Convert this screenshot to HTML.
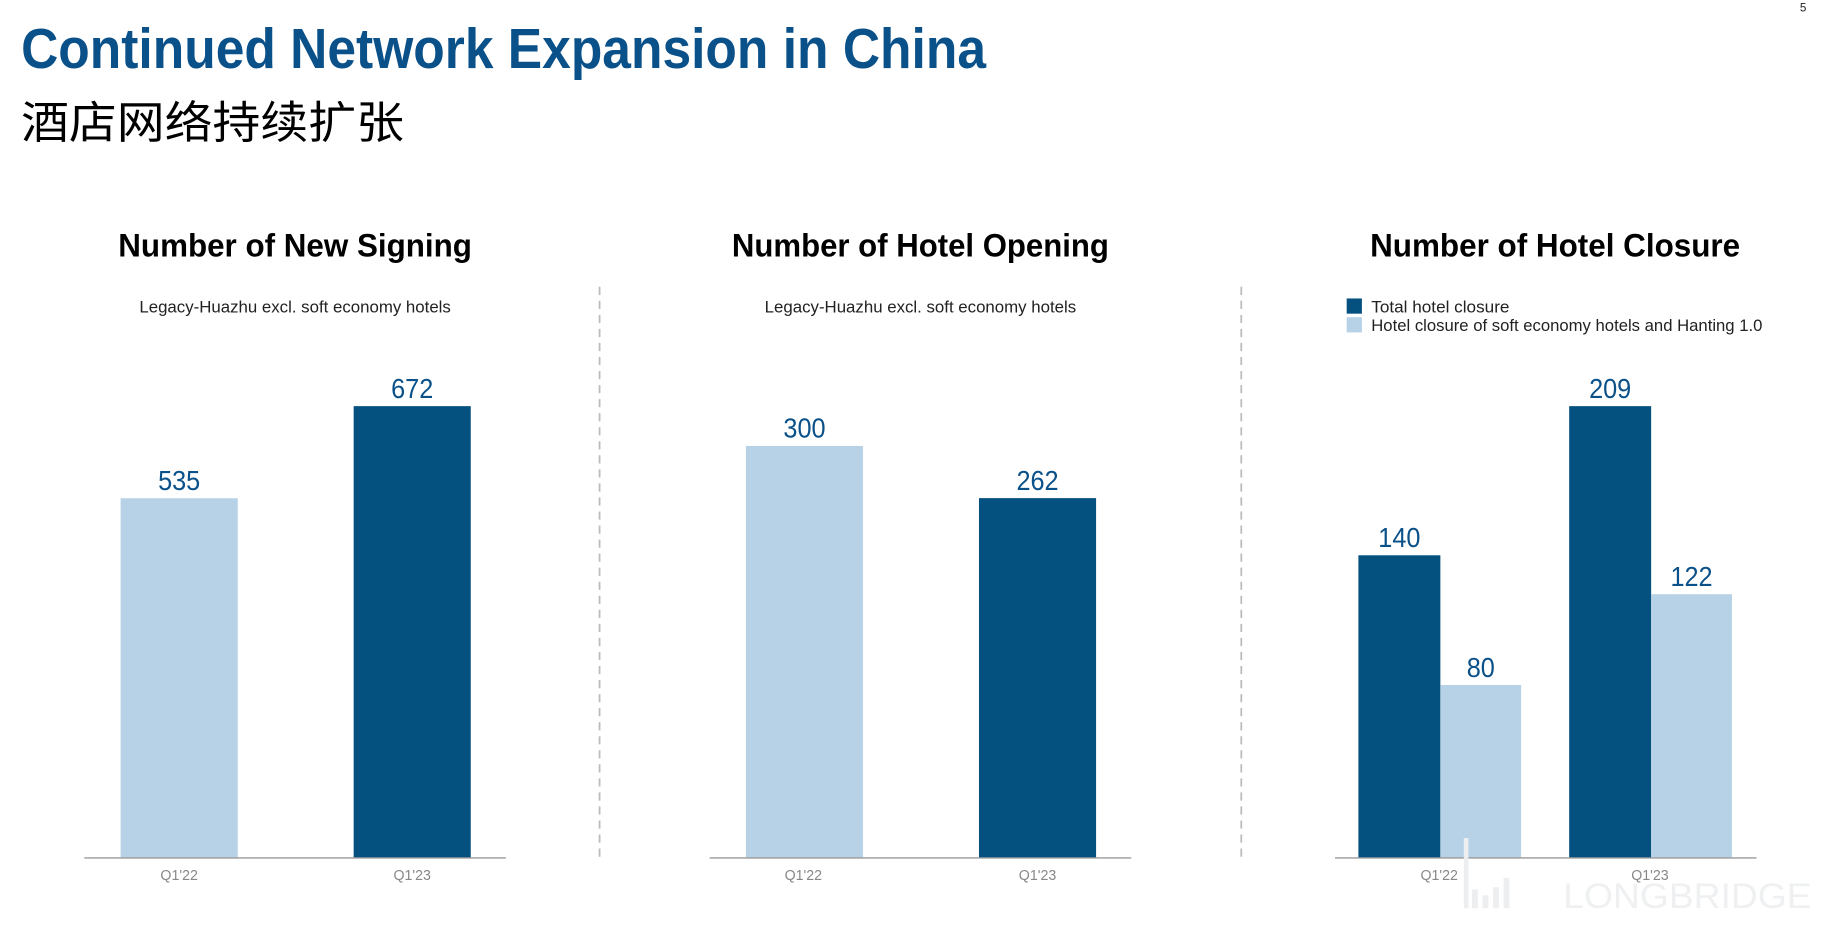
<!DOCTYPE html>
<html><head><meta charset="utf-8"><style>
html,body{margin:0;padding:0;background:#fff;width:1835px;height:934px;overflow:hidden}
svg{display:block}
text{font-family:"Liberation Sans","Noto Sans CJK SC",sans-serif}
</style></head><body>
<svg id="s" width="1835" height="934" viewBox="0 0 1567 798" preserveAspectRatio="none">
<text x="1537" y="10" font-size="10" fill="#222">5</text>
<text x="18" y="58" font-size="48" font-weight="bold" fill="#0a5089" textLength="824" lengthAdjust="spacingAndGlyphs">Continued Network Expansion in China</text>
<text x="18" y="118" font-size="38" fill="#000" textLength="327" lengthAdjust="spacingAndGlyphs">酒店网络持续扩张</text>
<line x1="512" y1="245" x2="512" y2="732" stroke="#bbb" stroke-width="1.5" stroke-dasharray="7,5"/>
<line x1="1060" y1="245" x2="1060" y2="732" stroke="#bbb" stroke-width="1.5" stroke-dasharray="7,5"/>
<g id="c1"></g>
<g id="c2"></g>
<g id="c3"></g>
<g fill="#eceef0">
<rect x="1250" y="716" width="4" height="60"/><rect x="1257" y="760" width="5" height="16"/><rect x="1266" y="765" width="5" height="11"/><rect x="1275" y="758" width="5" height="18"/><rect x="1284" y="750" width="5" height="26"/>
</g>
<text x="1335" y="776" font-size="30" fill="#eef0f2" textLength="212" lengthAdjust="spacingAndGlyphs">LONGBRIDGE</text>
</svg>
<script>
const NS="http://www.w3.org/2000/svg";
const DARK="#04507f", LIGHT="#b7d2e6";
const categories=["Q1'22","Q1'23"];
const signingValues=[535,672];
const openingValues=[300,262];
const closureTotal=[140,209];
const closureSoft=[80,122];
const BASE=733;
function mk(tag,attrs,parent,txt){const e=document.createElementNS(NS,tag);for(const k in attrs)e.setAttribute(k,attrs[k]);if(txt!==undefined)e.textContent=txt;parent.appendChild(e);return e;}
function txt(p,x,y,s,size,fill,opts){const t=mk('text',Object.assign({x:x,y:y,'font-size':size,fill:fill,'text-anchor':'middle'},opts||{}),p,s);return t;}
function yScale(perUnit){return v=>BASE-v*perUnit;}
function header(p,cx,title,sub,w){
  const t=txt(p,cx,219,title,28,"#000",{'font-weight':'bold',textLength:w,lengthAdjust:'spacingAndGlyphs'});
  
  
  if(sub){const s=txt(p,cx,267,sub,14,"#222",{textLength:266,lengthAdjust:'spacingAndGlyphs'});
  
  }
}
function axis(p,x1,x2,centers){
  const l=mk('line',{x1:x1,x2:x2,y1:BASE,y2:BASE,stroke:'#999','stroke-width':1.2},p);
  
  
  centers.forEach((c,i)=>{const t=txt(p,c,752,categories[i],13,"#888",{textLength:32,lengthAdjust:'spacingAndGlyphs'});
  
  });
}
function bar(p,x,w,v,y,color){
  const top=y(v);
  const r=mk('rect',{x:x,y:top,width:w,height:BASE-top,fill:color},p);
  
  
  const t=txt(p,x+w/2,top-7,String(v),24,"#0a5089",{textLength:String(v).length*12,lengthAdjust:'spacingAndGlyphs'});
  
  
}
const c1=document.getElementById('c1');
header(c1,252,"Number of New Signing","Legacy-Huazhu excl. soft economy hotels",302);
const y1=yScale(386/672);
[103,302].forEach((x,i)=>bar(c1,x,100,signingValues[i],y1,i?DARK:LIGHT));
axis(c1,72,432,[153,352]);
const c2=document.getElementById('c2');
header(c2,786,"Number of Hotel Opening","Legacy-Huazhu excl. soft economy hotels",322);
const y2=yScale(352/300);
[637,836].forEach((x,i)=>bar(c2,x,100,openingValues[i],y2,i?DARK:LIGHT));
axis(c2,606,966,[686,886]);
const c3=document.getElementById('c3');
header(c3,1328,"Number of Hotel Closure",null,316);
const y3=yScale(386/209);
[1160,1340].forEach((x,i)=>{bar(c3,x,70,closureTotal[i],y3,DARK);bar(c3,x+70,69,closureSoft[i],y3,LIGHT);});
axis(c3,1140,1500,[1229,1409]);
const lg=[["Total hotel closure",DARK,255],["Hotel closure of soft economy hotels and Hanting 1.0",LIGHT,271]];
lg.forEach(([s,c,y])=>{
  const g=mk('g',{},c3);
  
  
  mk('rect',{x:1150,y:y,width:13,height:13,fill:c},g);
  mk('text',{x:1171,y:y+12,'font-size':14,fill:'#222',textLength:s.length>30?334:118,lengthAdjust:'spacingAndGlyphs'},g,s);
});
</script>
</body></html>
